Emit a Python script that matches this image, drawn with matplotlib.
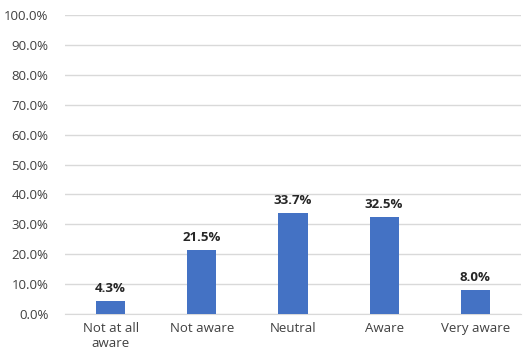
import numpy as np
import matplotlib
matplotlib.use("Agg")
import matplotlib.pyplot as plt
from matplotlib.ticker import FuncFormatter

# Data
categories = ["Not at all\naware", "Not aware", "Neutral", "Aware", "Very aware"]
percent = [4.3, 21.5, 33.7, 32.5, 8.0]
yticks = np.arange(0, 101, 10)

plt.rcParams["font.family"] = ["Open Sans", "DejaVu Sans"]

fig = plt.figure(figsize=(5.24, 3.57), dpi=100)
ax = fig.add_axes([0.124, 0.12, 0.87, 0.838])

x = np.arange(len(categories))
ax.bar(x, percent, width=0.32, color="#4472C4", zorder=3)

for xi, v in zip(x, percent):
    ax.text(xi, v + 2, f"{v:.1f}%", ha="center", va="bottom",
            fontsize=9.5, fontweight="bold", color="#262626")

ax.set_xlim(-0.5, len(categories) - 0.5)
ax.set_ylim(0, 100)
ax.set_yticks(yticks)
ax.yaxis.set_major_formatter(FuncFormatter(lambda v, p: f"{v:.1f}%"))
ax.set_xticks(x)
ax.set_xticklabels(categories, multialignment="center")

ax.grid(axis="y", color="#d9d9d9", linewidth=1, zorder=0)
for s in ["top", "right", "left"]:
    ax.spines[s].set_visible(False)
ax.spines["bottom"].set_color("#d9d9d9")
ax.tick_params(axis="both", length=0, labelsize=9.5, colors="#404040")
ax.tick_params(axis="y", pad=12)
ax.tick_params(axis="x", pad=6)

fig.savefig("out.png", dpi=100)
